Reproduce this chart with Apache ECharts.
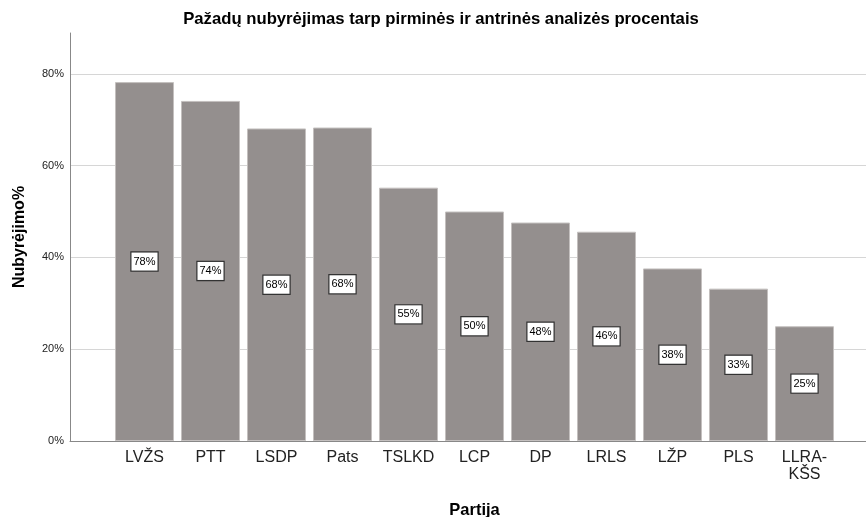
<!DOCTYPE html>
<html>
<head>
<meta charset="utf-8">
<script src="https://cdn.jsdelivr.net/npm/echarts@6/dist/echarts.min.js"></script>
<style>
  html, body { margin: 0; padding: 0; background: #fff; }
  #chart { width: 866px; height: 517px; }
</style>
</head>
<body>
<div id="chart"></div>
<script>
// partijos ir nubyrėjimo procentai (nuskaityta nuo paveikslo)
var partijos = ['LVŽS', 'PTT', 'LSDP', 'Pats', 'TSLKD', 'LCP', 'DP', 'LRLS', 'LŽP', 'PLS', 'LLRA-\nKŠS'];
var nubyrejimas = [78.2, 74.1, 68.1, 68.3, 55.2, 50.0, 47.6, 45.6, 37.6, 33.2, 25.0];
var yMax = 88.9;
var yStep = 20;

var font = 'Liberation Sans, Arial, sans-serif';
var chart = echarts.init(document.getElementById('chart'));

var option = {
  animation: false,
  textStyle: { fontFamily: font },
  title: {
    text: 'Pažadų nubyrėjimas tarp pirminės ir antrinės analizės procentais',
    left: 436,
    textAlign: 'center',
    top: 6,
    textStyle: { fontSize: 16.7, fontWeight: 'bold', color: '#000', fontFamily: font }
  },
  grid: [
    // stulpeliai
    { left: 111.5, right: 28.5, top: 33, bottom: 76, outerBoundsMode: 'none' },
    // ašys ir tinklelis per visą plotį
    { left: 70, right: 0, top: 33, bottom: 76, outerBoundsMode: 'none' }
  ],
  xAxis: [
    {
      type: 'category',
      gridIndex: 0,
      data: partijos,
      name: 'Partija',
      nameLocation: 'middle',
      nameGap: 61,
      nameTextStyle: { fontSize: 16.5, fontWeight: 'bold', color: '#000', fontFamily: font },
      axisLine: { show: false },
      axisTick: { show: false },
      axisLabel: { fontSize: 16, color: '#222', margin: 8, lineHeight: 17, interval: 0, fontFamily: font }
    },
    {
      type: 'value',
      gridIndex: 1,
      min: 0,
      max: 1,
      axisLine: { show: true, lineStyle: { color: '#888', width: 1 } },
      axisTick: { show: false },
      axisLabel: { show: false },
      splitLine: { show: false }
    }
  ],
  yAxis: [
    {
      type: 'value',
      gridIndex: 0,
      min: 0,
      max: yMax,
      show: false,
      splitLine: { show: false }
    },
    {
      type: 'value',
      gridIndex: 1,
      min: 0,
      max: yMax,
      interval: yStep,
      name: 'Nubyrėjimo%',
      nameLocation: 'middle',
      nameGap: 42,
      nameTextStyle: { fontSize: 16, fontWeight: 'bold', color: '#000', fontFamily: font },
      axisLine: { show: true, lineStyle: { color: '#888', width: 1 } },
      axisTick: { show: false },
      axisLabel: {
        fontSize: 11, color: '#222', margin: 6, showMaxLabel: false, fontFamily: font,
        formatter: function (v) { return Math.round(v) + '%'; }
      },
      splitLine: { show: true, showMaxLine: false, showMinLine: false, lineStyle: { color: '#d6d6d6', width: 1 } }
    }
  ],
  series: [
    {
      type: 'bar',
      xAxisIndex: 0,
      yAxisIndex: 0,
      data: nubyrejimas,
      barCategoryGap: '10.6%',
      itemStyle: { color: '#948f8e', borderColor: '#c4c0bf', borderWidth: 1 },
      label: {
        show: true,
        position: 'inside',
        formatter: function (p) { return Math.round(p.value) + '%'; },
        fontSize: 11,
        color: '#000',
        fontFamily: font,
        backgroundColor: '#fff',
        borderColor: '#333',
        borderWidth: 1.2,
        padding: [4, 2, 3, 2]
      }
    }
  ]
};

chart.setOption(option);
</script>
</body>
</html>
